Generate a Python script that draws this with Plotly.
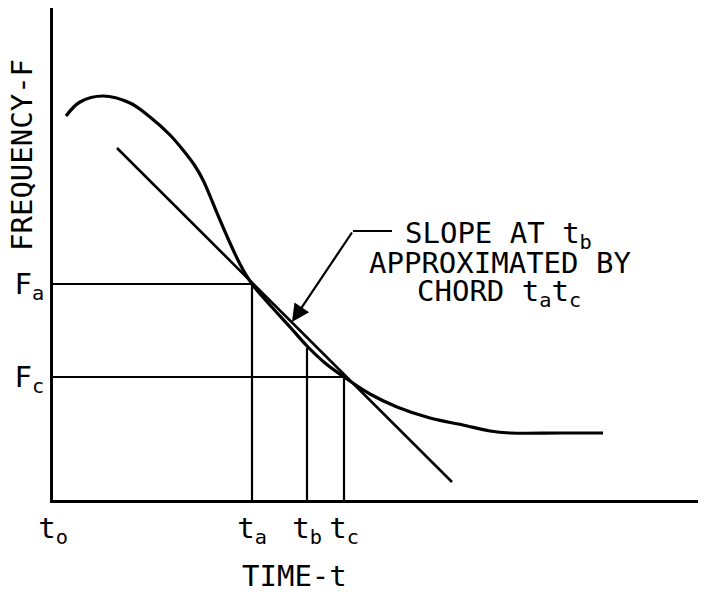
import plotly.graph_objects as go

# Data (t, F in drawing units; origin at axis corner)
curve_t = [13, 27, 50, 77, 97, 117, 130, 142, 150, 157, 164, 177, 188, 199,
           217, 237, 254, 272, 291, 317, 344, 377, 410, 437, 457, 507, 550]
curve_f = [384, 398, 404, 397, 383, 365, 350, 334, 320, 304, 287, 257, 234, 216,
           195, 173, 154, 137, 123, 106, 93, 82, 75, 69, 67, 67, 67]
chord_t = [64, 399]
chord_f = [352, 18]

t_o, t_a, t_b, t_c = 0, 199, 254, 291
F_a, F_c = 216, 123
F_b = 152

x_tickvals = [t_o, t_a, t_b, t_c]
x_ticktext = ["t<sub>o</sub>", "t<sub>a</sub>", "t<sub>b</sub>", "t<sub>c</sub>"]
y_tickvals = [F_a, F_c]
y_ticktext = ["F<sub>a</sub>", "F<sub>c</sub>"]

X_MAX, Y_MAX = 645, 492

FONT = "DejaVu Sans Mono"
BLACK = "black"

fig = go.Figure()
fig.add_trace(go.Scatter(x=curve_t, y=curve_f, mode="lines",
                         line=dict(color=BLACK, width=3.2, shape="spline", smoothing=1.0),
                         hoverinfo="skip"))
fig.add_trace(go.Scatter(x=chord_t, y=chord_f, mode="lines",
                         line=dict(color=BLACK, width=2.6), hoverinfo="skip"))

# guide lines
guides = [
    (0, F_a, t_a, F_a), (0, F_c, t_c, F_c),
    (t_a, 0, t_a, F_a), (t_b, 0, t_b, F_b), (t_c, 0, t_c, F_c),
]
for x0, y0, x1, y1 in guides:
    fig.add_shape(type="line", x0=x0, y0=y0, x1=x1, y1=y1, xref="x", yref="y",
                  line=dict(color=BLACK, width=2.2))

# leader line
fig.add_shape(type="line", x0=300, y0=269, x1=339, y1=269, xref="x", yref="y",
              line=dict(color=BLACK, width=2.2))
fig.add_annotation(x=239, y=178, ax=300, ay=269, xref="x", yref="y", axref="x", ayref="y",
                   text="", showarrow=True, arrowhead=2, arrowsize=1.6, arrowwidth=2.2,
                   arrowcolor=BLACK, standoff=0)

tf = dict(family=FONT, size=29, color=BLACK)
fig.add_annotation(x=350, y=265, xref="x", yref="y", text="SLOPE AT t<sub>b</sub>",
                   showarrow=False, xanchor="left", yanchor="middle", font=tf)
fig.add_annotation(x=314, y=237, xref="x", yref="y", text="APPROXIMATED BY",
                   showarrow=False, xanchor="left", yanchor="middle", font=tf)
fig.add_annotation(x=362, y=207, xref="x", yref="y", text="CHORD t<sub>a</sub>t<sub>c</sub>",
                   showarrow=False, xanchor="left", yanchor="middle", font=tf)

# axis titles
fig.add_annotation(x=-31 / X_MAX, y=345, xref="paper", yref="y", text="FREQUENCY-F",
                   textangle=-90, showarrow=False, xanchor="center", yanchor="middle", font=tf)
fig.add_annotation(x=241, y=-76 / Y_MAX, xref="x", yref="paper", text="TIME-t",
                   showarrow=False, xanchor="center", yanchor="middle", font=tf)

fig.update_xaxes(range=[0, X_MAX], showline=True, linecolor=BLACK, linewidth=3,
                 showgrid=False, zeroline=False, ticks="", automargin=False,
                 tickvals=x_tickvals, ticktext=x_ticktext, tickfont=tf)
fig.update_yaxes(range=[0, Y_MAX], showline=True, linecolor=BLACK, linewidth=3,
                 showgrid=False, zeroline=False, ticks="", automargin=False,
                 tickvals=y_tickvals, ticktext=y_ticktext, tickfont=tf)

# page body adds an 8px margin, so the figure is 16px smaller than the window
fig.update_layout(width=690, height=582, margin=dict(l=45, r=0, t=0, b=90, autoexpand=False),
                  plot_bgcolor="white", paper_bgcolor="white", showlegend=False)

fig.write_html("out.html")
